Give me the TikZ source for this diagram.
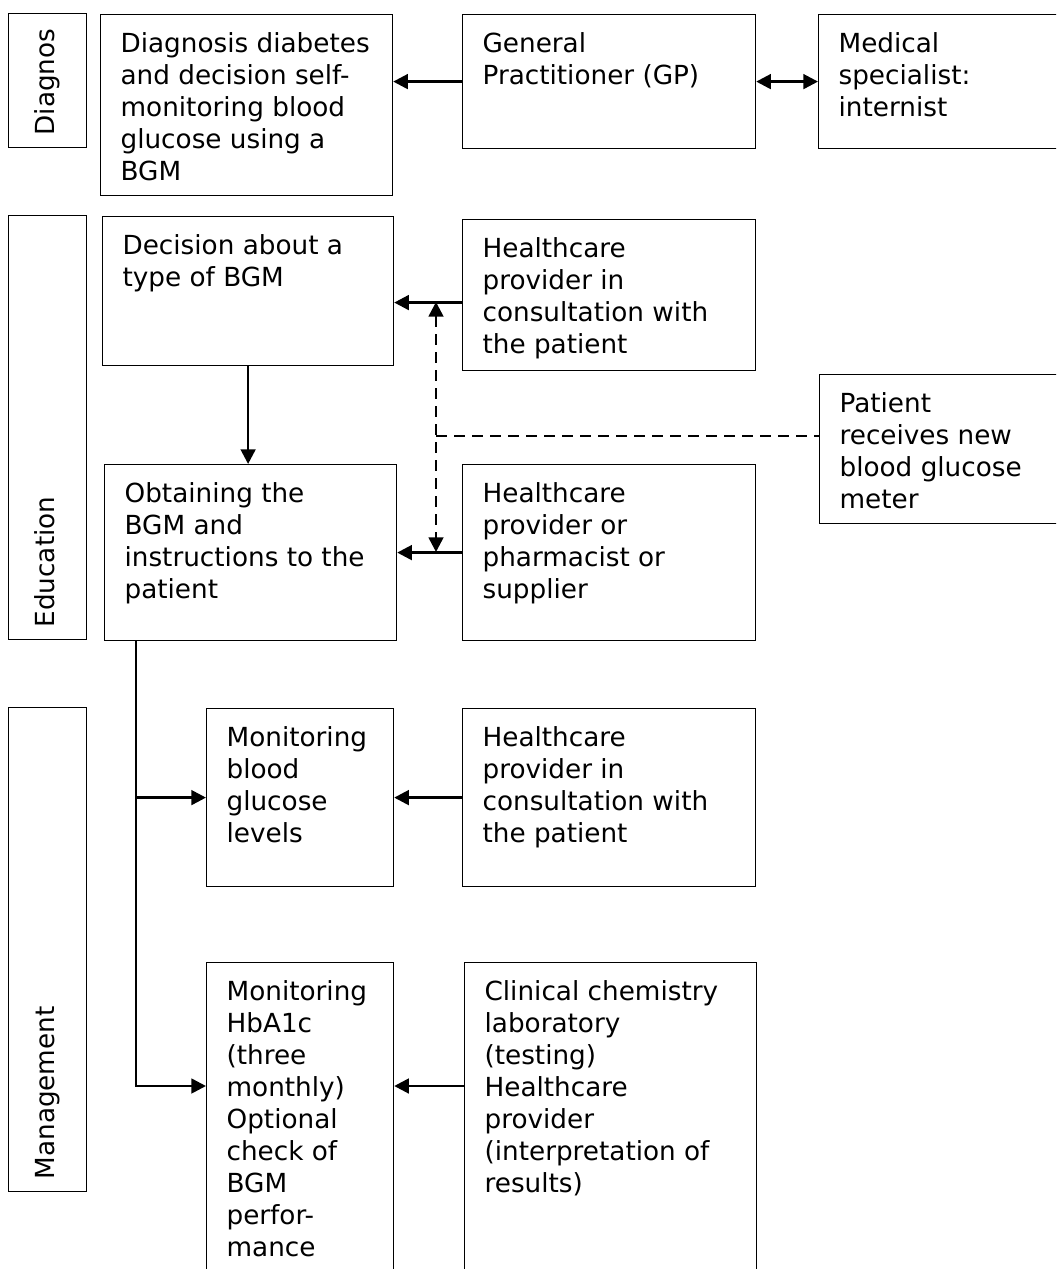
\documentclass[tikz,border=0pt]{standalone}
\usepackage{fontspec}
\setmainfont{DejaVu Sans}
\usetikzlibrary{arrows.meta}
\newlength{\px}
\setlength{\px}{0.75pt}
\newcommand{\cell}[3]{\begin{minipage}[t][#2\px][t]{#1\px}\raggedright\leftskip=20\px\rule{0pt}{38\px}#3\end{minipage}}
\newcommand{\side}[2]{\begin{minipage}[t][78\px][t]{#1\px}\raggedright\leftskip=12\px\rule{0pt}{46\px}#2\end{minipage}}
\tikzset{
  box/.style={draw, line width=0.9pt, inner sep=0pt, anchor=north west},
  arr/.style={line width=2pt, -{Triangle[length=11pt,width=11pt]}},
  darr/.style={line width=2pt, {Triangle[length=11pt,width=11pt]}-{Triangle[length=11pt,width=11pt]}},
  dashline/.style={line width=2pt, dash pattern=on 8pt off 5.5pt}
}

\begin{document}
\begin{tikzpicture}[x=0.75pt, y=-0.75pt, font=\fontsize{19.7pt}{24pt}\selectfont]
      \clip (0,0) rectangle (1056,1269);
      \node[box, rotate=90] (diaglab) at (8,148) {\side{134}{Diagnos}};
      \node[box, rotate=90] (edulab) at (8,640) {\side{424}{Education}};
      \node[box, rotate=90] (mgmtlab) at (8,1192) {\side{484}{Management}};

      \node[box] (diag) at (100,14) {\cell{292}{181}{Diagnosis diabetes\\ and decision self-\\ monitoring blood\\ glucose using a\\ BGM}};
      \node[box] (gp) at (462,14) {\cell{293}{134}{General\\ Practitioner (GP)}};
      \node[box] (spec) at (818,14) {\cell{245}{134}{Medical\\ specialist:\\ internist}};

      \node[box] (decide) at (102,216) {\cell{291}{149}{Decision about a\\ type of BGM}};
      \node[box] (hc1) at (462,219) {\cell{293}{151}{Healthcare\\ provider in\\ consultation with\\ the patient}};
      \node[box] (patient) at (819,374) {\cell{244}{149}{Patient\\ receives new\\ blood glucose\\ meter}};
      \node[box] (obtain) at (104,464) {\cell{292}{176}{Obtaining the\\ BGM and\\ instructions to the\\ patient}};
      \node[box] (hc2) at (462,464) {\cell{293}{176}{Healthcare\\ provider or\\ pharmacist or\\ supplier}};

      \node[box] (mbg) at (206,708) {\cell{187}{178}{Monitoring\\ blood\\ glucose\\ levels}};
      \node[box] (hc3) at (462,708) {\cell{293}{178}{Healthcare\\ provider in\\ consultation with\\ the patient}};
      \node[box] (hba) at (206,962) {\cell{187}{330}{Monitoring\\ HbA1c\\ (three\\ monthly)\\ Optional\\ check of\\ BGM\\ perfor-\\ mance}};
      \node[box] (clin) at (464,962) {\cell{292}{330}{Clinical chemistry\\ laboratory\\ (testing)\\ Healthcare\\ provider\\ (interpretation of\\ results)}};

      \draw[arr] (gp.west) -- (gp.west -| diag.east);
      \draw[darr] (gp.east) -- (spec.west);
      \draw[arr] ([yshift=-5.6pt]hc1.west) coordinate (h1) -- (h1 -| decide.east);
      \draw[arr] (decide.south) -- (decide.south |- obtain.north);
      \draw[arr] (hc2.west) -- (hc2.west -| obtain.east);

      \coordinate (dtop) at (436,302);
      \coordinate (dbot) at (436,552);
      \coordinate (dknee) at (436,436);
      \draw[dashline, {Triangle[length=11pt,width=11pt]}-{Triangle[length=11pt,width=11pt]}] (dtop) -- (dbot);
      \draw[dashline] (dknee) -- (dknee -| patient.west);

      \coordinate (split) at ([xshift=24pt]obtain.south west);
      \coordinate (hbin) at ([yshift=-93pt]hba.north west);
      \draw[arr] (split) |- (mbg.west);
      \draw[arr] (split) |- (hbin);
      \draw[arr] (hc3.west) -- (hc3.west -| mbg.east);
      \draw[arr] ([yshift=-93pt]clin.north west) coordinate (c1) -- (c1 -| hba.east);
\end{tikzpicture}
\end{document}
